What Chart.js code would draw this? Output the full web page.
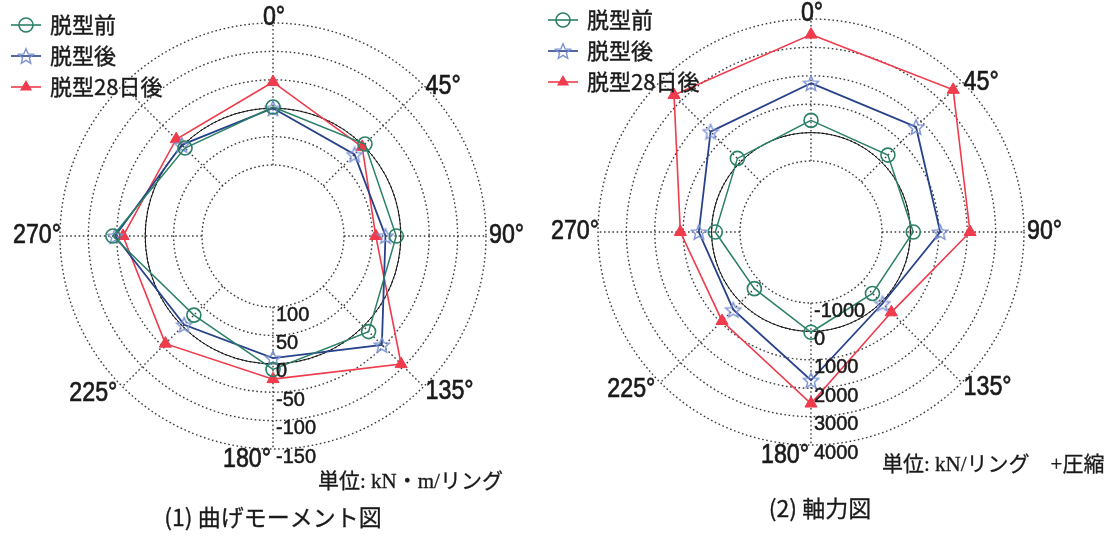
<!DOCTYPE html>
<html>
<head>
<meta charset="utf-8">
<script src="https://cdn.jsdelivr.net/npm/chart.js@4"></script>
<style>
  html, body { margin: 0; padding: 0; background: #fff; width: 1115px; height: 542px; overflow: hidden; }
  canvas { position: absolute; top: 0; }
  #cMoment { left: 0; }
  #cAxial { left: 540px; }
</style>
</head>
<body>
<canvas id="cMoment" width="557" height="542"></canvas>
<canvas id="cAxial" width="575" height="542"></canvas>
<script>
// Angular positions around the ring (clockwise from the crown)
const angleLabels = ['0°', '45°', '90°', '135°', '180°', '225°', '270°', ''];
const seriesNames = ['脱型前', '脱型後', '脱型28日後'];

// Bending moment, kN·m/ring, at 0°, 45°, ..., 315°
const momentBefore = [-2, -4, 8, -13, -10, 28, -57, 6];
const momentAfter  = [0, 22, 27, -46, 10, 4, -53, -2];
const moment28d    = [-46, 3, 44, -94, -27, -43, -39, -16];
const momentTicks  = [100, 50, 0, -50, -100, -150];

// Axial force, kN/ring (+ = compression)
const axialBefore = [430, 330, 100, -440, 30, -680, -130, 165];
const axialAfter  = [1740, 1730, 1050, 60, 1720, 370, 450, 1500];
const axial28d    = [3450, 3580, 2100, 500, 2540, 930, 1100, 3320];
const axialTicks  = [-1000, 0, 1000, 2000, 3000, 4000];

const GREEN = '#2b8068';
const BLUE = '#27428a';
const STAR = '#7d92d2';
const RED = '#ef3b4c';
const INK = '#1a1a1a';
const SANS = '"Liberation Sans", Arial, sans-serif';
const CJK = '"Noto Sans CJK JP", "Noto Sans", sans-serif';
const SERIF = '"Liberation Serif", "Noto Sans CJK JP", serif';

// hollow five-point star used as the 脱型後 marker
function makeStar(color) {
  const c = document.createElement('canvas');
  c.width = 18; c.height = 18;
  const g = c.getContext('2d');
  g.strokeStyle = color;
  g.lineWidth = 1.4;
  g.beginPath();
  for (let k = 0; k < 10; k++) {
    const r = k % 2 ? 3.6 : 8;
    const a = -Math.PI / 2 + k * Math.PI / 5;
    const x = 9 + r * Math.cos(a), y = 9.8 + r * Math.sin(a);
    if (k) g.lineTo(x, y); else g.moveTo(x, y);
  }
  g.closePath();
  g.stroke();
  return c;
}
const starImg = makeStar(STAR);

// text with a hairline outline so it reads a little heavier
function inkText(ctx, txt, x, y, w) {
  ctx.fillText(txt, x, y);
  if (w) {
    ctx.lineWidth = w;
    ctx.strokeStyle = ctx.fillStyle;
    ctx.strokeText(txt, x, y);
  }
}

function narrowText(ctx, txt, x, y, align, sx) {
  ctx.save();
  ctx.translate(x, y);
  ctx.scale(sx, 1);
  ctx.textAlign = align;
  ctx.textBaseline = 'middle';
  inkText(ctx, txt, 0, 0, 0.7);
  ctx.restore();
}

function drawMarker(ctx, i, x, y) {
  ctx.save();
  if (i === 0) {
    ctx.strokeStyle = GREEN; ctx.lineWidth = 1.6;
    ctx.beginPath(); ctx.arc(x, y, 7, 0, Math.PI * 2); ctx.stroke();
  } else if (i === 1) {
    ctx.drawImage(starImg, x - 9, y - 9);
  } else {
    ctx.fillStyle = RED;
    ctx.beginPath();
    for (let k = 0; k < 3; k++) {
      const a = -Math.PI / 2 + k * 2 * Math.PI / 3;
      const px = x + 7 * Math.cos(a), py = y + 7 * Math.sin(a);
      if (k) ctx.lineTo(px, py); else ctx.moveTo(px, py);
    }
    ctx.closePath(); ctx.fill();
  }
  ctx.restore();
}

// grid rings, spokes, zero circle, axis/tick labels, legend and notes
const decor = {
  id: 'decor',
  beforeDatasetsDraw(chart, args, o) {
    const ctx = chart.ctx, s = chart.scales.r;
    const R = s.drawingArea, cx = s.xCenter, cy = s.yCenter;
    const inner = Math.min(...o.ticks.map(v => s.getDistanceFromCenterForValue(v)));
    ctx.save();
    ctx.strokeStyle = '#3c3c3c';
    ctx.lineWidth = 1.4;
    ctx.setLineDash([1.6, 2.6]);
    o.ticks.forEach(v => {
      ctx.beginPath();
      ctx.arc(cx, cy, s.getDistanceFromCenterForValue(v), 0, Math.PI * 2);
      ctx.stroke();
    });
    for (let i = 0; i < angleLabels.length; i++) {
      const a = s.getPointPosition(i, inner), b = s.getPointPosition(i, R);
      ctx.beginPath(); ctx.moveTo(a.x, a.y); ctx.lineTo(b.x, b.y); ctx.stroke();
    }
    ctx.setLineDash([]);
    ctx.strokeStyle = '#111';
    ctx.lineWidth = 1;
    ctx.beginPath();
    ctx.arc(cx, cy, s.getDistanceFromCenterForValue(0), 0, Math.PI * 2);
    ctx.stroke();
    ctx.restore();
  },
  afterDatasetsDraw(chart, args, o) {
    const ctx = chart.ctx, s = chart.scales.r;
    const R = s.drawingArea, cx = s.xCenter, cy = s.yCenter;
    ctx.save();
    ctx.fillStyle = INK;

    // angle labels
    ctx.font = '27px ' + SANS;
    angleLabels.forEach((txt, i) => {
      if (!txt) return;
      let p, align, dx = 0, dy = 0;
      switch (i) {
        case 0: p = {x: cx + 1, y: cy - R - 5}; align = 'center'; break;
        case 1: p = s.getPointPosition(i, R); align = 'left'; dx = 2; dy = 1; break;
        case 2: p = s.getPointPosition(i, R); align = 'left'; dx = 3; break;
        case 3: p = s.getPointPosition(i, R); align = 'left'; dx = 2; dy = 5; break;
        case 4: p = {x: cx - 2, y: cy + R + 11}; align = 'right'; break;
        case 5: p = s.getPointPosition(i, R); align = 'right'; dx = -5; dy = 7; break;
        case 6: p = s.getPointPosition(i, R); align = 'right'; dx = 1; break;
      }
      narrowText(ctx, txt, p.x + dx, p.y + dy, align, 0.86);
    });

    // radial tick labels along the 180° axis
    ctx.font = '20px ' + SANS;
    ctx.textAlign = 'left';
    ctx.textBaseline = 'middle';
    o.ticks.forEach(v => {
      inkText(ctx, String(v), cx + 3, cy + s.getDistanceFromCenterForValue(v) + 8, 0.5);
    });

    // legend
    ctx.font = '22px ' + CJK;
    chart.data.datasets.forEach((ds, i) => {
      const y = o.legendY + i * 31;
      ctx.save();
      ctx.strokeStyle = ds.borderColor;
      ctx.lineWidth = 1.6;
      ctx.beginPath(); ctx.moveTo(o.legendX - 15, y); ctx.lineTo(o.legendX + 15, y); ctx.stroke();
      ctx.restore();
      drawMarker(ctx, i, o.legendX, y);
      ctx.fillStyle = INK;
      ctx.textAlign = 'left';
      ctx.textBaseline = 'middle';
      inkText(ctx, ds.label, o.legendX + 24, y, 0.4);
    });

    // unit note and caption
    ctx.fillStyle = INK;
    ctx.font = '21px ' + SERIF;
    ctx.textAlign = 'left';
    ctx.textBaseline = 'middle';
    inkText(ctx, o.units, o.unitsX, o.unitsY, 0.3);
    ctx.font = '23px ' + CJK;
    ctx.textAlign = 'center';
    inkText(ctx, o.caption, o.capX, o.capY, 0.3);
    ctx.restore();
  }
};

function buildChart(id, cfg) {
  return new Chart(document.getElementById(id), {
    type: 'radar',
    data: {
      labels: angleLabels,
      datasets: [
        { label: seriesNames[0], data: cfg.series[0], borderColor: GREEN, borderWidth: 1.5,
          pointStyle: 'circle', pointRadius: 7, pointBorderColor: GREEN,
          pointBackgroundColor: 'rgba(0,0,0,0)', pointBorderWidth: 1.6, fill: false },
        { label: seriesNames[1], data: cfg.series[1], borderColor: BLUE, borderWidth: 1.8,
          pointStyle: starImg, pointRadius: 8, fill: false },
        { label: seriesNames[2], data: cfg.series[2], borderColor: RED, borderWidth: 1.6,
          pointStyle: 'triangle', pointRadius: 7, pointBackgroundColor: RED,
          pointBorderColor: RED, pointBorderWidth: 1, fill: false }
      ]
    },
    options: {
      responsive: false,
      animation: false,
      devicePixelRatio: 1,
      layout: { padding: 0 },
      elements: { line: { tension: 0 } },
      plugins: {
        legend: { display: false },
        tooltip: { enabled: false },
        decor: cfg.decor
      },
      scales: {
        r: {
          min: cfg.min,
          max: cfg.max,
          reverse: cfg.reverse,
          ticks: { display: false },
          grid: { display: false },
          angleLines: { display: false },
          pointLabels: { display: false },
          afterFit(s) {
            s.xCenter = cfg.cx;
            s.yCenter = cfg.cy;
            s.drawingArea = cfg.R;
          }
        }
      }
    },
    plugins: [decor]
  });
}

// (1) bending moment: positive values plotted toward the centre
buildChart('cMoment', {
  series: [momentBefore, momentAfter, moment28d],
  min: -150, max: 225, reverse: true,
  cx: 273, cy: 236, R: 213,
  decor: {
    ticks: momentTicks, legendX: 26, legendY: 25,
    units: '単位: kN・m/リング', unitsX: 318, unitsY: 482,
    caption: '(1) 曲げモーメント図', capX: 273, capY: 517
  }
});

// (2) axial force
buildChart('cAxial', {
  series: [axialBefore, axialAfter, axial28d],
  min: -3500, max: 4000, reverse: false,
  cx: 271, cy: 232, R: 213,
  decor: {
    ticks: axialTicks, legendX: 23, legendY: 20,
    units: '単位: kN/リング\u3000+圧縮', unitsX: 342, unitsY: 465,
    caption: '(2) 軸力図', capX: 280, capY: 508
  }
});
</script>
</body>
</html>
